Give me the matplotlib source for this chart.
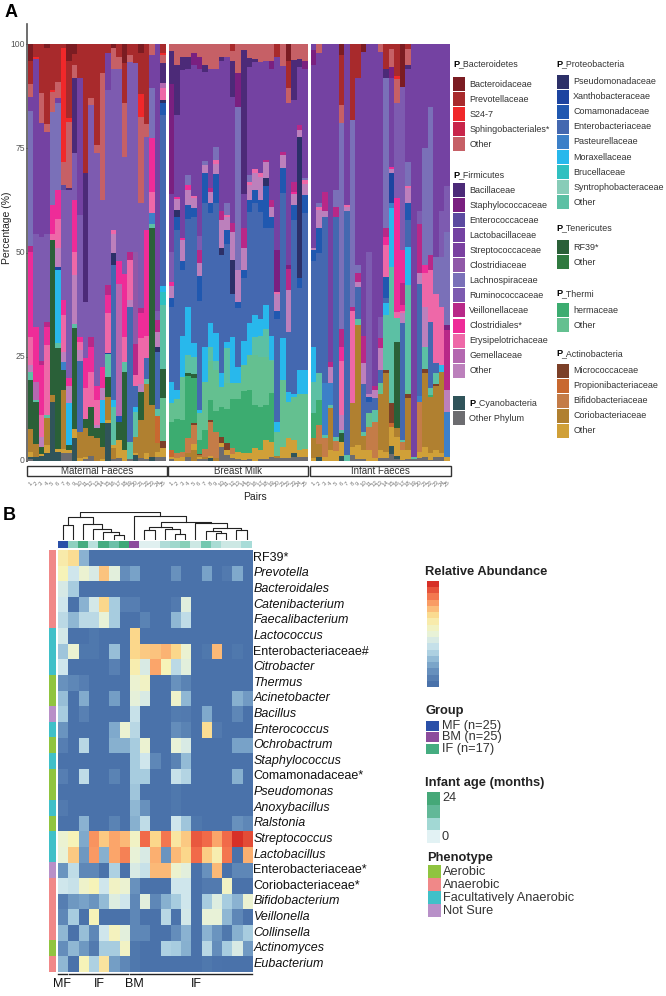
import numpy as np
from matplotlib import pyplot
from matplotlib.colors import LinearSegmentedColormap
from matplotlib.patches import Rectangle

pyplot.rcParams['font.family'] = ['Liberation Sans', 'DejaVu Sans']

W, H = 666, 996

# family codes and colours (panel A)
colours = {
    'BA': '#7b1c22', 'PR': '#a82a2c', 'S2': '#f0282a', 'SP': '#c8264a', 'BO': '#c66066',
    'BC': '#4c2a78', 'ST': '#7a2080', 'EN': '#5c4aa0', 'LA': '#7442a2', 'SR': '#7a40a0',
    'CL': '#9058a8', 'LC': '#7a70b8', 'RU': '#7d5bb0', 'VE': '#b82888', 'CS': '#ee2c98',
    'ER': '#ee68a8', 'GE': '#b468b0', 'FO': '#bc80bc',
    'PS': '#2c3068', 'XA': '#1c44a0', 'CO': '#2058b0', 'EB': '#4468b0', 'PA': '#3c80c8',
    'MO': '#28b8ec', 'BR': '#30c0c0', 'SY': '#88ccb8', 'PO': '#5cc0a4',
    'RF': '#2a6038', 'TO': '#2f7a40', 'TH': '#3cac70', 'TM': '#64c090',
    'MI': '#7c4028', 'PB': '#c86830', 'BI': '#c47c48', 'CR': '#b08030', 'AO': '#d0a038',
    'CY': '#30545a', 'OP': '#6c6c70',
}

# each bar, bottom to top: (family, top of the segment in %)
maternal = [
    [('OP',.5),('CY',1),('AO',2),('CR',7.6),('RF',19.4),('PO',21.4),('FO',23),('ER',29.8),('CS',50),('VE',51.5),('LC',84),('LA',87.4),('BO',90.5),('PR',96),('BA',100)],
    [('CY',1),('CR',4),('RF',14),('PO',14.5),('GE',19),('CS',32),('RU',54.5),('LA',96.5),('S2',97),('PR',100)],
    [('CY',1.2),('AO',1.6),('RF',3.4),('FO',5.8),('ER',11),('CS',23),('VE',24),('RU',53.8),('LA',81),('BO',88.3),('PR',100)],
    [('CY',1.8),('AO',3.8),('CR',10.3),('PO',11),('ER',27.8),('CS',32),('VE',33.4),('RU',54.5),('LA',79),('BO',80.8),('PR',99),('BA',100)],
    [('CY',14),('CR',15.8),('RF',53),('ER',54.5),('CS',61.4),('LC',83.8),('BO',88.6),('S2',89),('PR',100)],
    [('CY',2),('AO',2.8),('RF',27),('PO',28.3),('MO',45.8),('XA',46.6),('FO',51),('ER',58),('CS',65),('LC',85.8),('LA',87),('BO',91),('PR',100)],
    [('OP',1.8),('AO',2.8),('CR',17),('RF',21.8),('PA',23.8),('FO',26),('ER',35),('CS',38.5),('RU',65),('EN',66.3),('BO',71.8),('S2',99),('PR',100)],
    [('OP',1.8),('AO',2.6),('RF',3.8),('MO',13.8),('FO',18),('CS',19.8),('RU',65),('BC',65.5),('BO',81.4),('S2',82.4),('PR',96),('BA',100)],
    [('CY',5.4),('AO',7.5),('RF',31.8),('PO',32.8),('FO',44.6),('ER',50),('CS',62.5),('RU',74),('BC',91.8),('BO',95),('PR',97.7),('BA',100)],
    [('AO',.6),('CR',7),('EB',24),('FO',26.6),('ER',28.6),('CS',29.6),('RU',59),('LA',92),('PR',100)],
    [('OP',.4),('AO',1),('CR',7.8),('RF',10),('ER',17.4),('CS',24.6),('RU',38),('BC',69),('PR',100)],
    [('OP',1.1),('CR',6),('RF',13),('ER',21.4),('CS',27.4),('VE',29.6),('RU',85.4),('BO',87),('PR',100)],
    [('CR',5.4),('RF',7.8),('FO',8.5),('ER',14.6),('CS',18),('RU',74),('BO',75.8),('PR',100)],
    [('AO',.5),('CR',3.4),('RF',9),('MO',14.6),('FO',17.4),('CS',22.6),('RU',62.5),('BO',93),('PR',100)],
    [('CY',9),('AO',9.8),('CR',15.4),('RF',20),('PO',25.6),('XA',25.8),('ER',35.4),('CS',39.8),('VE',42.3),('RU',89),('LA',97.8),('PR',100)],
    [('OP',.3),('CR',3),('AO',3.8),('PO',13),('MO',14.6),('EB',47),('PS',49.8),('FO',54.5),('ER',55.5),('RU',94),('BO',99),('BA',100)],
    [('OP',.6),('AO',5),('RF',9.4),('CO',10.7),('GE',42.5),('CS',48),('RU',94),('BO',97),('PR',100)],
    [('AO',2.6),('RF',21.4),('PO',23.8),('ER',29.8),('CS',44.8),('RU',73),('BO',86),('PR',95.5),('BA',100)],
    [('OP',.4),('PO',4.5),('EB',37),('FO',38.6),('ER',48.3),('VE',50),('RU',95.8),('BO',97.4),('PR',100)],
    [('CY',1.4),('AO',1.8),('CR',5.8),('PO',11.8),('MO',13),('EB',18),('ER',20.5),('VE',28),('CL',50),('RU',95.4),('PR',100)],
    [('OP',.6),('CR',9.8),('RF',16.5),('FO',18.5),('ER',29.4),('CS',35.4),('VE',36.6),('RU',62),('BO',82.6),('S2',88),('PR',98),('BA',100)],
    [('OP',.3),('AO',1.8),('CR',18.5),('PO',19.7),('EB',24.6),('ER',30),('CS',55.4),('RU',77.8),('BO',80.8),('PR',100)],
    [('CY',1),('CR',13.4),('RF',55.8),('PO',56.8),('PA',59.4),('ER',64.6),('CS',77.6),('LC',89.4),('LA',97.4),('BO',100)],
    [('OP',1),('AO',2.2),('CR',4.2),('PB',10.8),('PO',12.5),('EB',26.2),('PS',27.4),('FO',31),('VE',33.8),('RU',36),('LA',100)],
    [('OP',.8),('AO',3),('MI',4.8),('TM',15),('RF',22),('PO',37.4),('BR',40.5),('MO',42),('EB',83),('CO',86),('PS',86.6),('ER',89.4),('GE',90.6),('BC',95.4),('BO',97.4),('S2',98),('PR',100)],
]
breast = [
    [('OP',.3),('AO',1),('PB',2.5),('TH',9.2),('TM',13.8),('MO',19),('EB',37),('CO',39),('FO',42),('CS',43),('RU',50),('LA',64),('ST',90.5),('BC',98.3),('BO',100)],
    [('AO',.6),('BI',1.8),('TH',10),('TM',14.7),('MO',17),('EB',55.4),('CO',58.6),('PS',60.3),('FO',62.8),('CS',63.4),('LA',83),('BC',95),('BO',100)],
    [('AO',.8),('BI',2.2),('TH',9.8),('TM',20),('MO',30),('EB',45.8),('CO',48),('FO',53),('CS',53.5),('LA',93.8),('BC',97),('BO',100)],
    [('OP',.8),('CR',1.8),('BI',5.4),('TH',20.3),('RF',21),('PO',25.4),('MO',37),('EB',58),('CO',61.4),('FO',65),('CS',66.2),('LC',68.6),('LA',94),('BC',97),('BO',100)],
    [('CR',2.6),('AO',4),('BI',8.6),('MI',9),('TH',19.8),('RF',20.8),('PO',25),('MO',28.3),('EB',58.6),('CO',60.6),('FO',63),('ER',63.5),('LA',95),('ST',98),('BO',100)],
    [('OP',.3),('AO',1),('CR',1.4),('MI',1.6),('TH',5),('TM',11.4),('MO',12.2),('EB',38.4),('CO',44.3),('FO',47.4),('VE',50.6),('RU',54),('LA',94),('ST',97),('BO',100)],
    [('OP',.4),('CR',1),('BI',2.7),('TH',7.3),('TM',19),('MO',27.4),('EB',62),('CO',69),('FO',71),('LC',72),('LA',93.4),('BC',95),('BO',100)],
    [('CY',.6),('AO',1.2),('BI',9.4),('MI',9.8),('TH',14.6),('TM',24),('PO',27.4),('MO',33),('EB',59.4),('CO',62),('FO',64.5),('VE',65.6),('LA',94),('BO',100)],
    [('CR',.6),('BI',7),('TH',12),('TM',21.8),('PO',24),('MO',30.6),('EB',62),('CO',68.8),('FO',71.2),('ER',72.2),('LC',75.4),('LA',94),('BO',100)],
    [('OP',3.2),('AO',4.2),('MI',5.8),('TH',12.8),('TM',17.8),('MO',21),('EB',49.4),('PS',51),('FO',57.8),('VE',60),('LA',96),('BC',97),('BO',100)],
    [('OP',1.4),('AO',2.6),('MI',4.2),('TH',12.4),('TM',18.6),('PO',27),('MO',28.5),('EB',52),('CO',55.4),('FO',58.6),('ER',59),('LC',62),('LA',97),('BO',100)],
    [('OP',.6),('AO',1.6),('BI',3),('TH',14.8),('TM',18.6),('MO',29.6),('EB',40),('PS',48.3),('FO',55),('VE',57),('LA',87.4),('BC',96),('BO',98.5),('PR',100)],
    [('OP',.3),('AO',2),('TH',14.7),('TM',18.6),('MO',22.6),('EB',36.6),('CO',38),('FO',45.8),('LC',85),('ST',93),('BO',100)],
    [('OP',.2),('AO',1.8),('TH',16.8),('TM',23),('MO',28.8),('EB',43.8),('CO',45.8),('FO',51),('VE',56),('LA',64),('BC',98.6),('BO',100)],
    [('OP',.3),('AO',1.8),('TH',17),('TM',25.4),('MO',33),('EB',59.8),('CO',62.6),('FO',66.2),('ER',67),('LC',68.6),('LA',94.6),('BC',96.6),('BO',100)],
    [('AO',3),('TH',13.4),('TM',25.4),('PO',29.8),('MO',35),('EB',61.8),('CO',65),('FO',69),('ER',70),('LA',95.8),('BC',96.5),('BO',100)],
    [('OP',.4),('AO',2.6),('TH',13),('TM',25),('PO',30),('MO',34),('EB',59.8),('CO',62.6),('FO',68.2),('ER',69),('LA',95.8),('BO',100)],
    [('OP',.4),('AO',5),('TH',13.4),('TM',25),('PO',31.6),('MO',37.4),('EB',56),('CO',66),('PS',67.8),('FO',71.8),('VE',72.3),('LA',96),('BO',100)],
    [('OP',.8),('AO',4.6),('TH',16.2),('TM',24),('PO',24.2),('MO',30),('EB',56),('CO',58.6),('FO',61),('VE',62.6),('LA',94),('ST',96),('BO',100)],
    [('OP',.6),('CR',1.1),('TM',7),('MO',9.4),('EB',34),('CO',36),('FO',40),('ER',40.5),('ST',50.6),('LA',97),('PR',100)],
    [('OP',.6),('AO',3.4),('TM',19.5),('MO',29.4),('EB',64.2),('CO',70.2),('FO',73.4),('VE',74.2),('LA',94.8),('BO',100)],
    [('OP',.6),('AO',5.4),('TM',14.2),('MO',16.6),('EB',31),('FO',41),('VE',46),('ST',47),('LA',86),('BO',89.4),('PR',96),('BA',100)],
    [('OP',.8),('CY',1.8),('AO',5),('TM',15.4),('MO',16),('EB',57.8),('CO',61.4),('FO',64),('CS',64.6),('VE',67),('LA',86.6),('BC',96.2),('BO',100)],
    [('OP',1),('AO',2.6),('TM',16),('MO',21.8),('EB',41.4),('CO',43.8),('PS',77.8),('FO',79.5),('VE',80.7),('LA',94.6),('BC',96.5),('BO',100)],
    [('OP',.8),('AO',2.7),('TM',16),('MO',21.8),('EB',59.4),('CO',63.8),('FO',66.5),('ER',67.3),('LC',68),('LA',94),('ST',96),('BO',100)],
]
infant = [
    [('AO',.6),('CR',5.4),('TH',11.4),('PO',19),('MO',27.4),('EB',48),('CO',50.6),('FO',51),('LA',95),('ST',98.7),('LA',100)],
    [('CY',.8),('CR',4),('BI',8.6),('TH',14.6),('PO',21),('EB',49.8),('CO',55.8),('FO',60.3),('ER',61),('LC',62),('LA',97.8),('BO',100)],
    [('AO',1),('BI',5.4),('PO',6.2),('PA',18.6),('EB',58.6),('FO',60),('VE',64.6),('LA',100)],
    [('AO',2.6),('CR',12.6),('PO',13.4),('PA',18.6),('FO',22.6),('VE',23.8),('LA',100)],
    [('AO',2.4),('BI',4.8),('PO',5.8),('EB',58.6),('VE',61),('LC',65),('LA',100)],
    [('CY',1.1),('AO',4.6),('RF',6.6),('PO',7.4),('FO',11),('ER',24),('CS',27.4),('VE',31.6),('LC',81),('BO',85.4),('PR',97.4),('BA',100)],
    [('PO',1.3),('EB',60),('FO',61),('ER',61.5),('LA',100)],
    [('OP',1.4),('AO',3.4),('CR',13.8),('ER',36),('VE',36.8),('LC',81.8),('PR',100)],
    [('OP',.4),('AO',3.7),('CR',32.6),('PO',34),('EB',41.8),('FO',43),('VE',45),('LC',47),('LA',91.8),('PR',100)],
    [('OP',.3),('AO',2.6),('CR',6),('PO',6.8),('EB',18.3),('FO',23.4),('VE',30),('LA',98.2),('BA',100)],
    [('AO',2.6),('BI',8.2),('TM',11.4),('EB',14.2),('CO',15.4),('FO',16),('RU',50),('LA',100)],
    [('AO',.6),('BI',9.4),('PO',12.2),('EB',15),('FO',17),('VE',18),('LA',100)],
    [('OP',.6),('AO',2.6),('CR',16),('TM',18.6),('EB',21.8),('FO',27),('VE',29.4),('RU',34.6),('LA',98.2),('BO',100)],
    [('OP',.6),('AO',2),('CR',21),('MI',21.8),('PO',35),('MO',37.8),('EB',39),('CO',44.2),('ER',51.8),('CS',53.8),('VE',55.8),('LC',92),('BC',94),('PR',100)],
    [('OP',1.6),('CY',3.5),('AO',8.2),('PB',9),('MI',13.8),('PO',46.6),('MO',60.6),('PA',62),('XA',69),('FO',70),('CS',70.6),('LA',92),('ST',94.5),('BO',98.8),('PR',100)],
    [('OP',.5),('CY',1.1),('AO',5.6),('CR',7.8),('RF',28.6),('PO',34.2),('ER',35.8),('CS',63),('RU',86),('BO',91.6),('S2',92.4),('PR',100)],
    [('OP',.2),('AO',2.6),('BI',4.6),('PO',5),('EB',33),('FO',35.4),('ER',36),('CS',37.4),('VE',42.6),('CS',50.6),('RU',89.8),('BA',100)],
    [('OP',.4),('AO',2.6),('CR',15),('MI',16),('TM',17),('PO',42.2),('MO',51.4),('EB',57.8),('CO',62),('FO',65.4),('ER',66),('LC',71.8),('LA',94),('BC',95),('BO',98.8),('PR',100)],
    [('OP',.5),('PO',.8),('LA',100)],
    [('OP',.6),('AO',2),('BI',14),('PA',15.5),('EB',42.5),('FO',45),('VE',56.8),('RU',60),('LA',100)],
    [('OP',.8),('AO',3.4),('CR',21),('MI',22),('PO',27.4),('FO',37),('ER',45),('CS',47),('LC',75),('LA',100)],
    [('OP',.2),('AO',1.8),('CR',15.4),('TH',15.8),('PO',17.4),('EB',33.4),('ER',45.8),('VE',49.5),('LC',85),('LA',100)],
    [('OP',.8),('AO',2.6),('CR',18),('MI',18.4),('PO',21),('EB',23.4),('ER',40),('LC',49),('LA',100)],
    [('OP',.8),('AO',1.8),('CR',21.4),('MO',23),('ER',37),('LC',49),('RU',60),('LA',100)],
    [('AO',1),('PA',11.8),('FO',17),('VE',31.4),('ST',32.5),('LC',55),('RU',66),('LA',100)],
]
pairs = [str(i) for i in range(1, 26)]
strip_names = ['Maternal Faeces', 'Breast Milk', 'Infant Faeces']

# panel A legend
leg_col1 = [
    ('Bacteroidetes', 64, 84, [('Bacteroidaceae','BA'),('Prevotellaceae','PR'),('S24-7','S2'),('Sphingobacteriales*','SP'),('Other','BO')]),
    ('Firmicutes', 175, 190, [('Bacillaceae','BC'),('Staphylococcaceae','ST'),('Enterococcaceae','EN'),('Lactobacillaceae','LA'),('Streptococcaceae','SR'),('Clostridiaceae','CL'),('Lachnospiraceae','LC'),('Ruminococcaceae','RU'),('Veillonellaceae','VE'),('Clostridiales*','CS'),('Erysipelotrichaceae','ER'),('Gemellaceae','GE'),('Other','FO')]),
]
leg_col2 = [
    ('Proteobacteria', 64, 81.7, [('Pseudomonadaceae','PS'),('Xanthobacteraceae','XA'),('Comamonadaceae','CO'),('Enterobacteriaceae','EB'),('Pasteurellaceae','PA'),('Moraxellaceae','MO'),('Brucellaceae','BR'),('Syntrophobacteraceae','SY'),('Other','PO')]),
    ('Tenericutes', 228, 247, [('RF39*','RF'),('Other','TO')]),
    ('Thermi', 293.5, 310, [('hermaceae','TH'),('Other','TM')]),
    ('Actinobacteria', 353.5, 370.7, [('Micrococcaceae','MI'),('Propionibacteriaceae','PB'),('Bifidobacteriaceae','BI'),('Coriobacteriaceae','CR'),('Other','AO')]),
]

# panel B
genera = ['RF39*','Prevotella','Bacteroidales','Catenibacterium','Faecalibacterium','Lactococcus',
          'Enterobacteriaceae#','Citrobacter','Thermus','Acinetobacter','Bacillus','Enterococcus',
          'Ochrobactrum','Staphylococcus','Comamonadaceae*','Pseudomonas','Anoxybacillus','Ralstonia',
          'Streptococcus','Lactobacillus','Enterobacteriaceae*','Coriobacteriaceae*','Bifidobacterium',
          'Veillonella','Collinsella','Actinomyces','Eubacterium']
upright = ['RF39*','Enterobacteriaceae#','Comamonadaceae*','Enterobacteriaceae*','Coriobacteriaceae*']
abundance = [
    [6.3,6.8,2.3,0,0,0,0,0,0,0,0,0,0,0,0,0,0,0,0],
    [6,4,5.2,4.4,7.4,4.8,1.2,1.8,0,0,0,1.3,0,0,1.8,0,.4,2,0],
    [4.3,3,0,0,0,0,0,0,0,0,0,0,0,0,0,0,0,0,0],
    [4,0,2.3,4.2,7,3,.6,.6,0,0,0,.4,4.7,0,0,0,0,0,0],
    [3.5,2.4,3.5,3.5,5,3,0,0,.8,0,0,2.4,3.6,0,0,0,0,0,0],
    [4.2,0,0,.3,0,0,0,7,0,0,0,0,0,0,0,0,0,0,0],
    [2.8,5.2,.3,.3,0,2.6,0,7,7.3,7.4,7.7,7,5.2,0,.3,7.6,0,.3,0],
    [4,0,0,0,0,.7,0,6.2,4.4,8,6,3.5,4.8,0,0,0,0,0,0],
    [1.3,1,.6,0,0,0,0,5.2,5.6,0,0,1.3,.8,0,0,0,0,0,0],
    [2.6,0,2.1,0,0,1.7,0,4.9,4.4,0,0,5.4,2.4,0,0,0,0,2.2,1.6],
    [3,0,.7,0,0,0,0,3.8,0,0,0,.5,.4,0,2,0,0,1,0],
    [1.4,0,0,0,0,2,5.2,3.4,0,0,0,1.2,.8,0,6.8,.4,0,0,0],
    [.6,0,3.4,0,0,2.2,2.2,3,5.2,0,0,5,4.4,0,0,0,0,1.8,1.8],
    [0,0,0,0,0,0,0,3,4,1,0,.8,2.5,0,0,0,0,0,0],
    [.6,0,3.6,0,0,.8,0,3,3,0,0,3.8,3.3,0,0,0,0,2.2,0],
    [0,0,0,0,0,0,0,2.8,0,0,0,.3,0,0,0,0,0,0,0],
    [.4,0,0,0,0,0,0,2.4,1.3,0,0,.3,0,0,0,0,0,0,0],
    [0,0,2.3,0,0,.8,0,2.2,3.6,0,0,4,2.8,.3,0,0,0,1.3,1],
    [5.2,6,2,8.3,7.3,8,7.6,5.6,9,7,8.8,6.5,7.3,9.3,9,8,9,10,9.5],
    [5,7.3,1.5,8.2,2.2,8,8.6,5,4.4,7.8,1.4,7.6,7,9,7.2,6.2,8.8,0,7.8],
    [1.4,3.6,1,1,.1,3.2,0,4.4,3.8,7.6,7.6,5.3,4.8,0,1.3,7.6,0,1,1],
    [4,3.8,5.4,6,4,5.6,5.2,1.3,0,0,0,4,4,0,.4,.4,5.6,0,0],
    [.6,1.5,1.8,1.4,2.5,4.6,4,1,4.8,1,2.2,3,4,0,3,4.6,3,2.3,5.2],
    [1,3,0,6,0,0,0,1,0,0,3.4,.1,4.2,0,5,5,2.4,1,.1],
    [2.4,0,2.6,1,4,5.8,4.8,1,1,0,0,1.2,2.3,0,2.3,1.4,.3,2.2,3],
    [1.2,2.4,1.5,.4,3,3,5.6,.3,0,0,3.2,3,2.2,0,3.4,1.2,3,4.4,1.6],
    [2.4,0,6,3.2,6.6,1.7,1,.3,0,0,0,0,0,0,.3,.1,0,0,0],
]
heat_colours = ['#4a72aa','#5f88b8','#7fa9cc','#a8cde0','#cfe6ec','#e8f2d8','#f7f3b8','#fbd98c','#fba56a','#f26c4a','#d73027']
phenotype_names = ['Aerobic','Anaerobic','Facultatively Anaerobic','Not Sure']
phenotype_colours = ['#90c440','#f08888','#40c0c8','#b890c8']
row_phenotype = [1,1,1,1,1,2,2,2,0,0,3,2,0,2,0,0,2,0,2,2,3,1,1,1,1,0,1]
column_colours = ['#2a50a8','#8ed0c0','#45ac80','#b8e0dc','#45ac80','#6cc0a8','#3ea878','#8c4c9c','#e0f0f0','#e0f0f0',
                  '#b0dcd8','#a0d8cc','#88d0b8','#cce8e4','#74c8b0','#a8dcd4','#cce8e4','#cce8e4','#a8dcd8']
# dendrogram merges like a linkage table: ids >= 19 are earlier merges
merges = [(0,1,15),(5,6,5),(4,20,8),(3,21,11),(2,22,15.6),(19,23,23.5),
          (8,9,10),(11,12,5.7),(10,26,11),(25,27,13.3),(15,16,6.7),(14,29,9),(17,18,10),(30,31,12.3),(13,32,16.7),(28,33,18.3),(7,34,24.3),(24,35,27.6)]
group_names = ['MF (n=25)','BM (n=25)','IF (n=17)']
group_colours = ['#2a50a8','#8c4c9c','#45ac80']
age_colours = ['#45a878','#62b898','#a2d8d4','#e2f2f4']
age_ticks = ['24','0']
column_marks = ['MF','IF','BM','IF']


def axes_px(left, top, right, bottom):
    return fig.add_axes([left / W, 1 - bottom / H, (right - left) / W, (bottom - top) / H])


fig = pyplot.figure(figsize=(W / 100, H / 100), dpi=100)

# overlay in pixels for the labels and the legends
over = fig.add_axes([0, 0, 1, 1], zorder=5)
over.set_xlim(0, W)
over.set_ylim(H, 0)
over.axis('off')

panels = [(maternal, 27.5, 166), (breast, 168.7, 307.8), (infant, 310.8, 450)]
for (bars, left, right), name in zip(panels, strip_names):
    ax = axes_px(left, 44.3, right, 460.7)
    for i, segments in enumerate(bars):
        low = 0
        for code, top in segments:
            ax.bar(i, top - low, bottom=low, width=1.0, color=colours[code], linewidth=0)
            low = top
    ax.set_xlim(-.5, 24.5)
    ax.set_ylim(0, 100)
    ax.axis('off')
    over.add_patch(Rectangle((left - .5, 465.7), right - left + 1, 10.5, fc='white', ec='#333333', lw=1))
    over.text((left + right) / 2, 471, name, ha='center', va='center', fontsize=7, color='#333333')
    for i, p in enumerate(pairs):
        x = left + (i + .5) * (right - left) / 25
        over.text(x, 484, p, ha='center', va='center', fontsize=4.4, rotation=45, color='#777777')

over.plot([27, 27], [24, 461], color='#555555', lw=1.2)
for v, y in zip(['100', '75', '50', '25', '0'], [44.3, 148.4, 252.5, 356.6, 460.7]):
    over.text(25, y, v, ha='right', va='center', fontsize=6.2, color='#555555')
    over.plot([25.5, 27], [y, y], color='#555555', lw=.6)
over.text(7, 228, 'Percentage (%)', rotation=90, ha='center', va='center', fontsize=7.5, color='#222222')
over.text(255, 497, 'Pairs', ha='center', va='center', fontsize=7.5, color='#222222')
over.text(5, 12, 'A', ha='left', va='center', fontsize=13, fontweight='bold')
over.text(3, 515, 'B', ha='left', va='center', fontsize=13, fontweight='bold')


def phylum_title(x, y, name, text_offset=5.5):
    over.text(x, y, 'P', ha='left', va='center', fontsize=6.6, fontweight='bold')
    over.text(x + text_offset, y, '_' + name, ha='left', va='center', fontsize=6.4, color='#333333')


def legend_rows(x, y0, rows, step=15.06):
    for i, (label, code) in enumerate(rows):
        y = y0 + i * step
        over.add_patch(Rectangle((x, y - 7), 12, 14, fc=colours[code], ec='none'))
        over.text(x + 16.5, y, label, ha='left', va='center', fontsize=6.5, color='#333333')


for name, ty, ry, rows in leg_col1:
    phylum_title(453, ty, name)
    legend_rows(452.7, ry, rows)
for name, ty, ry, rows in leg_col2:
    phylum_title(556, ty, name)
    legend_rows(556.7, ry, rows)
legend_rows(452.7, 403, [('', 'CY'), ('Other Phylum', 'OP')])
phylum_title(469, 403, 'Cyanobacteria')

# heatmap
cmap = LinearSegmentedColormap.from_list('rel', heat_colours)
hm = axes_px(57.5, 550, 251.7, 971.7)
hm.imshow(np.array(abundance), cmap=cmap, vmin=0, vmax=10, aspect='auto', interpolation='nearest')
hm.axis('off')
for i, g in enumerate(genera):
    y = 550 + (i + .5) * (421.7 / 27)
    over.text(253.5, y, g, ha='left', va='center', fontsize=9, color='#111111',
              style='normal' if g in upright else 'italic')

# phenotype strip and column strip
side = axes_px(49, 550, 56, 971.7)
side.bar([0] * 27, [1] * 27, bottom=np.arange(27), width=1, color=[phenotype_colours[p] for p in row_phenotype], align='center', linewidth=0)
side.set_xlim(-.5, .5)
side.set_ylim(27, 0)
side.axis('off')

strip = axes_px(57.5, 541, 251.7, 548.5)
strip.bar(np.arange(19), [1] * 19, width=1, color=column_colours, linewidth=0)
strip.set_xlim(-.5, 18.5)
strip.set_ylim(0, 1)
strip.axis('off')

# dendrogram
dend = axes_px(57.5, 512, 251.7, 540)
dend.set_xlim(-.5, 18.5)
dend.set_ylim(0, 28)
dend.axis('off')
node_x = {i: i for i in range(19)}
node_h = {i: 0 for i in range(19)}
for k, (a, b, h) in enumerate(merges):
    dend.plot([node_x[a], node_x[a], node_x[b], node_x[b]], [node_h[a], h, h, node_h[b]], color='#222222', lw=.8)
    node_x[19 + k] = (node_x[a] + node_x[b]) / 2
    node_h[19 + k] = h

# marks under the heatmap
for mark, x, x0, x1 in zip(column_marks, [62.5, 99, 134.5, 196], [58, 68.5, 130, 140], [66.5, 128, 138.5, 251.5]):
    over.plot([x0, x1], [974, 974], color='#222222', lw=1)
    over.text(x, 983.5, mark, ha='center', va='center', fontsize=9, color='#111111')

# legends of panel B
over.text(425, 572, 'Relative Abundance', ha='left', va='center', fontsize=9.3, fontweight='bold', color='#222222')
cb = axes_px(427, 581, 439, 687)
cb.imshow(np.arange(10, -.1, -.625).reshape(-1, 1), cmap=cmap, vmin=0, vmax=10, aspect='auto', interpolation='nearest')
cb.axis('off')

over.text(426, 711, 'Group', ha='left', va='center', fontsize=9.3, fontweight='bold', color='#222222')
for name, col, y in zip(group_names, group_colours, [726, 737, 749]):
    over.add_patch(Rectangle((426, y - 5), 13, 10, fc=col, ec='none'))
    over.text(442, y, name, ha='left', va='center', fontsize=9.2, color='#333333')

over.text(425, 783, 'Infant age (months)', ha='left', va='center', fontsize=9.3, fontweight='bold', color='#222222')
for i, col in enumerate(age_colours):
    over.add_patch(Rectangle((427, 792 + i * 12.8), 13, 12.8, fc=col, ec='none'))
over.text(442, 798, age_ticks[0], ha='left', va='center', fontsize=9.2, color='#333333')
over.text(442, 837, age_ticks[1], ha='left', va='center', fontsize=9.2, color='#333333')

over.text(427, 858, 'Phenotype', ha='left', va='center', fontsize=9.3, fontweight='bold', color='#222222')
for i, (name, col) in enumerate(zip(phenotype_names, phenotype_colours)):
    y = 865 + i * 13
    over.add_patch(Rectangle((428, y), 13, 13, fc=col, ec='none'))
    over.text(443, y + 6.5, name, ha='left', va='center', fontsize=9.2, color='#333333')

fig.savefig('out.png', dpi=100)
